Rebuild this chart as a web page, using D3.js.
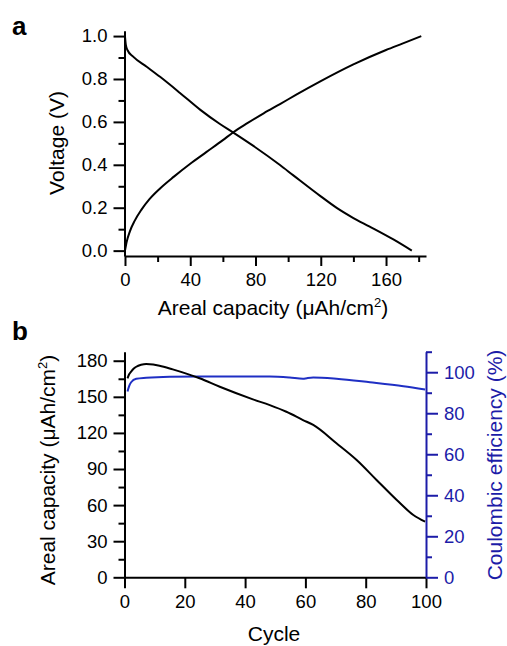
<!DOCTYPE html>
<html>
<head>
<meta charset="utf-8">
<script src="https://cdn.jsdelivr.net/npm/d3@7"></script>
<style>
  html, body { margin: 0; padding: 0; background: #fff; }
  svg { display: block; }
  text { font-family: "Liberation Sans", Arial, sans-serif; }
</style>
</head>
<body>
<svg id="chart" width="507" height="646"></svg>
<script>
// ---------- Panel a data ----------
const dischargeCap = [0, 0.5, 1.5, 5, 13.3, 21.5, 33.7, 46, 58.2, 66.4, 78.7, 95, 103, 120, 130, 140, 150, 164.5, 175.8];
const dischargeV   = [0.997, 0.96, 0.935, 0.904, 0.857, 0.81, 0.735, 0.657, 0.59, 0.55, 0.488, 0.399, 0.352, 0.253, 0.198, 0.152, 0.112, 0.052, 0.0];
const chargeCap = [0, 1, 3, 6, 10, 15, 21.5, 30, 40, 50, 60, 66.4, 75, 85, 95, 105, 120, 140, 160, 170, 181.6];
const chargeV   = [0.0, 0.04, 0.09, 0.14, 0.19, 0.24, 0.29, 0.345, 0.405, 0.46, 0.515, 0.552, 0.594, 0.64, 0.683, 0.727, 0.79, 0.868, 0.935, 0.965, 1.0];
const aXTicks = [0, 40, 80, 120, 160];
const aXMinor = [20, 60, 100, 140, 180];
const aYTicks = [0, 0.2, 0.4, 0.6, 0.8, 1.0];
const aYMinor = [0.1, 0.3, 0.5, 0.7, 0.9];

// ---------- Panel b data ----------
const capCycle = [1, 1.5, 2.2, 3.0, 3.9, 5.5, 7.2, 9.5, 11.6, 16, 20.5, 24.9, 31.6, 42.6, 48.2, 53.7, 59.2, 62.6, 70.3, 77, 83.6, 90.3, 95.8, 99.7];
const capValue = [165.4, 168.5, 170.9, 173.3, 175, 176.6, 177.3, 176.9, 175.9, 172.8, 169.3, 165.4, 158.4, 147.9, 143.1, 137.6, 130.7, 126.6, 111.4, 97.5, 80.9, 64.2, 51.8, 46.2];
const ceCycle = [1, 1.6, 2.2, 3.9, 7.2, 15, 25, 40, 48.2, 54.8, 59.2, 60.5, 62.6, 70.3, 81.4, 92.5, 99.7];
const ceValue = [90.6, 93.5, 95.1, 96.8, 97.3, 97.8, 97.9, 97.9, 97.9, 97.4, 96.8, 97.1, 97.4, 96.8, 95.1, 93.2, 91.6];
const bXTicks = [0, 20, 40, 60, 80, 100];
const bYLTicks = [0, 30, 60, 90, 120, 150, 180];
const bYLMinor = [15, 45, 75, 105, 135, 165];
const bYRTicks = [0, 20, 40, 60, 80, 100];
const bYRMinor = [10, 30, 50, 70, 90, 110];

const BLUE_AXIS = "#1c1ca8";
const BLUE_LINE = "#1f2fc4";
const TICK_FS = "18.5px";
const TITLE_FS = 21;

const svg = d3.select("#chart");

function styleAxis(g, color) {
  g.selectAll("path.domain").attr("stroke", color).attr("stroke-width", 2);
  g.selectAll(".tick line").attr("stroke", color).attr("stroke-width", 2);
  g.selectAll(".tick text")
    .attr("fill", color)
    .style("font-family", '"Liberation Sans", Arial, sans-serif')
    .style("font-size", TICK_FS);
}

// ================= Panel a =================
{
  const x = d3.scaleLinear().domain([-0.3, 184.5]).range([124.5, 426]);
  const y = d3.scaleLinear().domain([-0.025, 1.025]).range([256, 30.7]);

  svg.append("g").attr("transform", "translate(0,256)")
    .call(d3.axisBottom(x).tickValues(aXMinor).tickSize(6).tickFormat(""))
    .call(g => { styleAxis(g, "#000"); g.select(".domain").remove(); });
  svg.append("g").attr("transform", "translate(124.5,0)")
    .call(d3.axisLeft(y).tickValues(aYMinor).tickSize(6).tickFormat(""))
    .call(g => { styleAxis(g, "#000"); g.select(".domain").remove(); });

  const gx = svg.append("g").attr("transform", "translate(0,256)")
    .call(d3.axisBottom(x).tickValues(aXTicks).tickSize(10).tickSizeOuter(0).tickPadding(7).tickFormat(d3.format("d")));
  styleAxis(gx, "#000");
  const gy = svg.append("g").attr("transform", "translate(124.5,0)")
    .call(d3.axisLeft(y).tickValues(aYTicks).tickSize(11).tickSizeOuter(0).tickPadding(6).tickFormat(d3.format(".1f")));
  styleAxis(gy, "#000");

  const line = d3.line().curve(d3.curveMonotoneX).x(d => x(d[0])).y(d => y(d[1]));
  svg.append("path").datum(dischargeCap.map((c, i) => [c, dischargeV[i]]))
    .attr("d", line).attr("fill", "none").attr("stroke", "#000").attr("stroke-width", 2);
  svg.append("path").datum(chargeCap.map((c, i) => [c, chargeV[i]]))
    .attr("d", line).attr("fill", "none").attr("stroke", "#000").attr("stroke-width", 2);

  svg.append("text").attr("x", 12).attr("y", 35).attr("font-size", 26).attr("font-weight", "bold").text("a");

  svg.append("text").attr("transform", "translate(64,143) rotate(-90)")
    .attr("text-anchor", "middle").attr("font-size", TITLE_FS).text("Voltage (V)");

  const t = svg.append("text").attr("x", 273).attr("y", 315).attr("text-anchor", "middle").attr("font-size", TITLE_FS);
  t.append("tspan").text("Areal capacity (\u03BCAh/cm");
  t.append("tspan").attr("dy", -8).attr("font-size", 13).text("2");
  t.append("tspan").attr("dy", 8).text(")");
}

// ================= Panel b =================
{
  const x = d3.scaleLinear().domain([0, 100]).range([124.5, 426]);
  const yL = d3.scaleLinear().domain([0, 187.5]).range([577.3, 351.7]);
  const yR = d3.scaleLinear().domain([0, 110]).range([577.3, 351.7]);

  svg.append("g").attr("transform", "translate(124.5,0)")
    .call(d3.axisLeft(yL).tickValues(bYLMinor).tickSize(6).tickFormat(""))
    .call(g => { styleAxis(g, "#000"); g.select(".domain").remove(); });
  svg.append("g").attr("transform", "translate(426,0)")
    .call(d3.axisRight(yR).tickValues(bYRMinor).tickSize(6).tickFormat(""))
    .call(g => { styleAxis(g, BLUE_AXIS); g.select(".domain").remove(); });

  const gx = svg.append("g").attr("transform", "translate(0,577.3)")
    .call(d3.axisBottom(x).tickValues(bXTicks).tickSize(11).tickSizeOuter(0).tickPadding(7).tickFormat(d3.format("d")));
  styleAxis(gx, "#000");
  const gyl = svg.append("g").attr("transform", "translate(124.5,0)")
    .call(d3.axisLeft(yL).tickValues(bYLTicks).tickSize(11).tickSizeOuter(0).tickPadding(6).tickFormat(d3.format("d")));
  styleAxis(gyl, "#000");
  const gyr = svg.append("g").attr("transform", "translate(426,0)")
    .call(d3.axisRight(yR).tickValues(bYRTicks).tickSize(12).tickSizeOuter(0).tickPadding(6).tickFormat(d3.format("d")));
  styleAxis(gyr, BLUE_AXIS);

  const lineL = d3.line().curve(d3.curveMonotoneX).x(d => x(d[0])).y(d => yL(d[1]));
  const lineR = d3.line().curve(d3.curveMonotoneX).x(d => x(d[0])).y(d => yR(d[1]));
  svg.append("path").datum(ceCycle.map((c, i) => [c, ceValue[i]]))
    .attr("d", lineR).attr("fill", "none").attr("stroke", BLUE_LINE).attr("stroke-width", 2);
  svg.append("path").datum(capCycle.map((c, i) => [c, capValue[i]]))
    .attr("d", lineL).attr("fill", "none").attr("stroke", "#000").attr("stroke-width", 2);

  svg.append("text").attr("x", 12).attr("y", 340).attr("font-size", 26).attr("font-weight", "bold").text("b");

  const tl = svg.append("text").attr("transform", "translate(55,470) rotate(-90)")
    .attr("text-anchor", "middle").attr("font-size", TITLE_FS);
  tl.append("tspan").text("Areal capacity (\u03BCAh/cm");
  tl.append("tspan").attr("dy", -8).attr("font-size", 13).text("2");
  tl.append("tspan").attr("dy", 8).text(")");

  svg.append("text").attr("transform", "translate(502,465) rotate(-90)")
    .attr("text-anchor", "middle").attr("font-size", TITLE_FS).attr("fill", BLUE_AXIS).text("Coulombic efficiency (%)");

  svg.append("text").attr("x", 274).attr("y", 641).attr("text-anchor", "middle").attr("font-size", TITLE_FS).text("Cycle");
}
</script>
</body>
</html>
